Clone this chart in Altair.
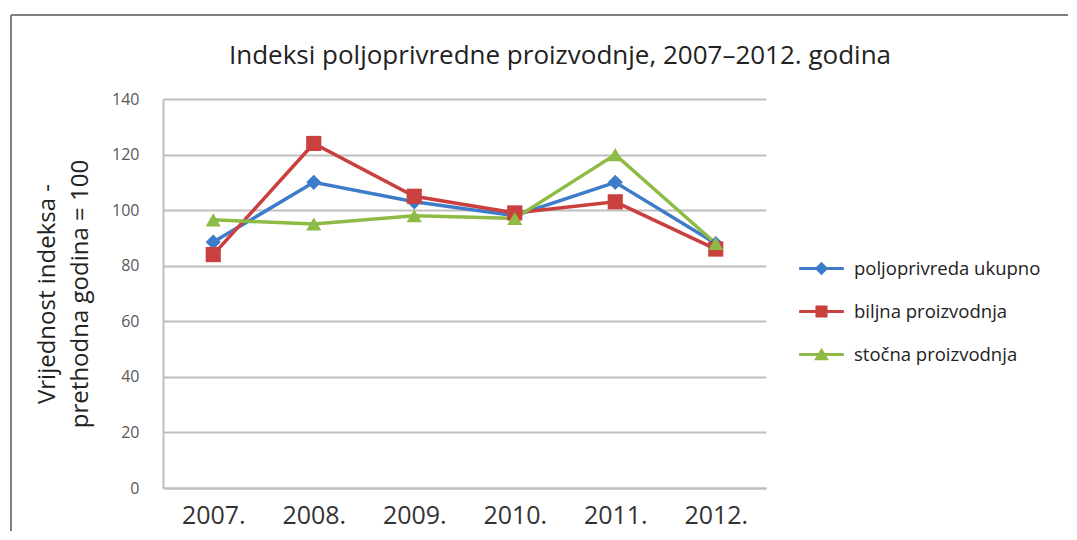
import altair as alt
import pandas as pd

years = ["2007.", "2008.", "2009.", "2010.", "2011.", "2012."]
series_names = ["poljoprivreda ukupno", "biljna proizvodnja", "stočna proizvodnja"]
ukupno = [88.5, 110, 103, 98, 110, 88]
biljna = [84, 124, 105, 99, 103, 86]
stocna = [96.5, 95, 98, 97, 120, 88]
colors = ["#3D7CC9", "#C9403F", "#8DBB45"]
point_shapes = ["diamond", "square", "triangle-up"]
chart_title = "Indeksi poljoprivredne proizvodnje, 2007–2012. godina"

LINE = "M-1,-0.07L1,-0.07L1,0.07L-1,0.07Z"
legend_paths = [
    LINE + "M0,-0.3L0.3,0L0,0.3L-0.3,0Z",
    LINE + "M-0.27,-0.27L0.27,-0.27L0.27,0.27L-0.27,0.27Z",
    LINE + "M0,-0.3L0.33,0.26L-0.33,0.26Z",
]

rows = []
for name, vals in zip(series_names, [ukupno, biljna, stocna]):
    for y, v in zip(years, vals):
        rows.append({"godina": y, "serija": name, "vrijednost": v})
df = pd.DataFrame(rows)

FONT = "Open Sans"

x_enc = alt.X("godina:O", sort=years,
              scale=alt.Scale(paddingOuter=0.5),
              axis=alt.Axis(title=None, labelAngle=0, labelFontSize=25, labelColor="#333333",
                            labelPadding=15, ticks=False, domainColor="#BFBFBF", domainWidth=2,
                            labelFont=FONT))
y_enc = alt.Y("vrijednost:Q",
              scale=alt.Scale(domain=[0, 140]),
              axis=alt.Axis(title=["Vrijednost indeksa -", "prethodna godina = 100"],
                            titleFontSize=24, titleFontWeight="normal", titleColor="#222222",
                            titleFont=FONT, titlePadding=19, titleLineHeight=33,
                            values=[0, 20, 40, 60, 80, 100, 120, 140],
                            labelFontSize=16, labelColor="#595959", labelPadding=24,
                            labelFont=FONT, ticks=False, domainColor="#BFBFBF", domainWidth=2,
                            gridColor="#BFBFBF", gridWidth=2))

lines = alt.Chart(df).mark_line(strokeWidth=3.5).encode(
    x=x_enc, y=y_enc,
    color=alt.Color("serija:N", scale=alt.Scale(domain=series_names, range=colors), legend=None))

points = alt.Chart(df).mark_point(filled=True, opacity=1).encode(
    x="godina:O", y="vrijednost:Q",
    color=alt.Color("serija:N", scale=alt.Scale(domain=series_names, range=colors), legend=None),
    shape=alt.Shape("serija:N", scale=alt.Scale(domain=series_names, range=point_shapes), legend=None),
    size=alt.value(230),
)

leg = dict(title=None, orient="none", legendX=636, legendY=147,
           labelFontSize=18.5, labelColor="#222222", labelFont=FONT, labelLimit=400,
           symbolSize=2000, symbolStrokeWidth=0, rowPadding=11, labelOffset=10)

legend_layer = alt.Chart(df).transform_filter("false").mark_point(filled=True, opacity=1).encode(
    x="godina:O", y="vrijednost:Q",
    color=alt.Color("serija:N", scale=alt.Scale(domain=series_names, range=colors),
                    legend=alt.Legend(**leg)),
    shape=alt.Shape("serija:N", scale=alt.Scale(domain=series_names, range=legend_paths),
                    legend=alt.Legend(**leg)),
)

title_df = pd.DataFrame({"t": [chart_title]})
title_mark = alt.Chart(title_df).mark_text(
    font=FONT, fontSize=26, color="#222222", align="center", baseline="alphabetic"
).encode(text="t:N", x=alt.value(397), y=alt.value(-35))

frame_left = alt.Chart(title_df).mark_rule(color="#808080", strokeWidth=2).encode(
    x=alt.value(-152), y=alt.value(-84), y2=alt.value(432))
frame_top = alt.Chart(title_df).mark_rule(color="#808080", strokeWidth=2).encode(
    x=alt.value(-152), x2=alt.value(905), y=alt.value(-84))

chart = alt.layer(frame_left, frame_top, title_mark, lines, points, legend_layer).resolve_scale(
    shape="independent", color="independent"
).properties(
    width=603, height=389,
    padding={"left": 2, "top": 6, "right": 0, "bottom": 0},
).configure_view(stroke=None)

chart.save("out.html", embed_options={"renderer": "svg", "actions": False})
